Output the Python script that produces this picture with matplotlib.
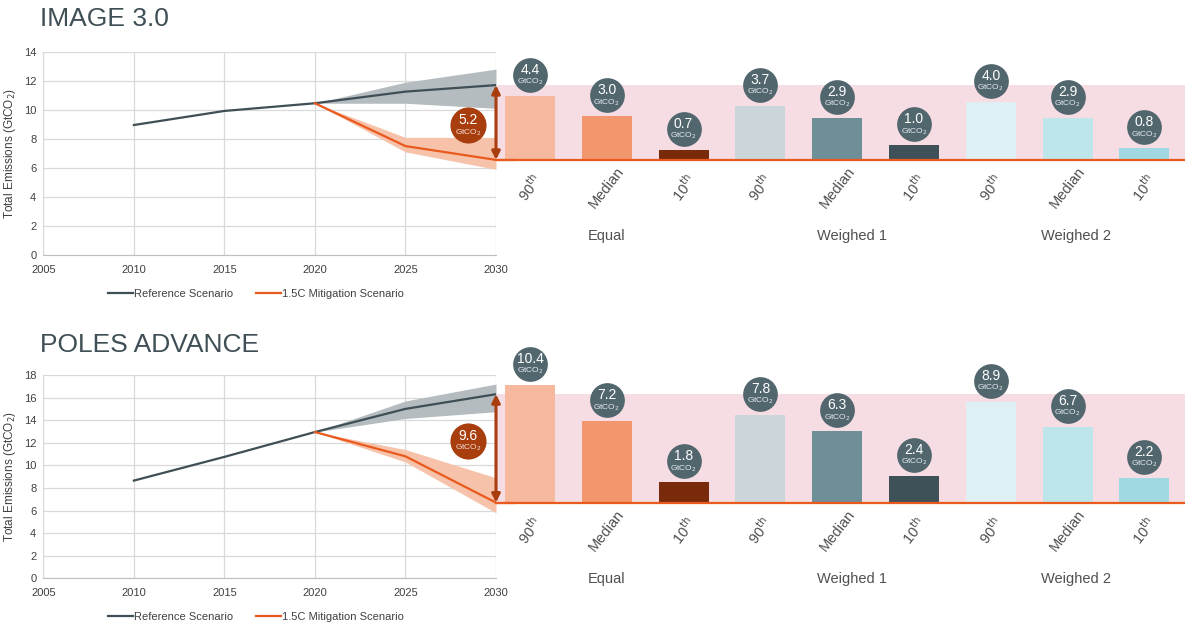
import matplotlib
matplotlib.use("Agg")
import matplotlib.pyplot as plt
import matplotlib.transforms as mtransforms

plt.rcParams['font.family'] = ['Liberation Sans', 'DejaVu Sans']

# ---------------- data ----------------
years = [2010, 2015, 2020, 2025, 2030]
band_years = [2020, 2025, 2030]

titles = ["IMAGE 3.0", "POLES ADVANCE"]
y_max = [14, 18]

ref_values = [[8.95, 9.92, 10.45, 11.25, 11.7],
              [8.65, 10.75, 12.95, 15.0, 16.3]]
ref_low = [[10.45, 10.45, 10.1],
           [12.95, 14.15, 14.75]]
ref_high = [[10.45, 11.9, 12.8],
            [12.95, 15.7, 17.2]]

mit_values = [[10.45, 7.5, 6.55],
              [12.95, 10.8, 6.7]]
mit_low = [[10.45, 7.1, 5.9],
           [12.95, 10.3, 5.8]]
mit_high = [[10.45, 8.1, 8.1],
            [12.95, 11.4, 8.9]]

gap_values = [5.2, 9.6]

groups = ["Equal", "Weighed 1", "Weighed 2"]
bar_labels = ["90$^{\\mathrm{th}}$", "Median", "10$^{\\mathrm{th}}$"] * 3
bar_values = [[4.4, 3.0, 0.7, 3.7, 2.9, 1.0, 4.0, 2.9, 0.8],
              [10.4, 7.2, 1.8, 7.8, 6.3, 2.4, 8.9, 6.7, 2.2]]

# ---------------- styles ----------------
bar_colors = ["#f6b99d", "#f1966d", "#782a0b",
              "#cbd6db", "#6e8f97", "#3f5158",
              "#def0f4", "#bee5ea", "#a0d9e2"]
ref_color = "#3f4f55"
ref_band = "#b4bcbf"
mit_color = "#ea5a1e"
mit_band = "#f6c2aa"
pink = "#f6dde3"
arrow_color = "#a83d0e"
bubble_color = "#52666e"
text_color = "#404040"
grid_color = "#d9d9d9"

W, H = 1185, 624
fig = plt.figure(figsize=(W / 100, H / 100), dpi=100)

panels = [dict(top=51.7, bottom=255.0, title_y=19),
          dict(top=375.0, bottom=578.3, title_y=345)]

left_px, mid_px = 43.3, 496.0
pitch = 76.8
first_center = 530.0
xmin = -(first_center - mid_px) / pitch
xmax = xmin + (W - mid_px) / pitch
group_pos = [1.0, 4.19, 7.11]
gap_frac = [0.46, 0.57]

for p, pan in enumerate(panels):
    b = 1 - pan['bottom'] / H
    h = (pan['bottom'] - pan['top']) / H
    ax = fig.add_axes([left_px / W, b, (mid_px - left_px) / W, h])
    axr = fig.add_axes([mid_px / W, b, (W - mid_px) / W, h])
    axr.set_zorder(ax.get_zorder() - 1)

    fig.text(40 / W, 1 - pan['title_y'] / H, titles[p], fontsize=19,
             color=ref_color, ha='left', va='center')

    # ---- line chart ----
    ax.fill_between(band_years, ref_low[p], ref_high[p], color=ref_band,
                    lw=0, zorder=2)
    ax.fill_between(band_years, mit_low[p], mit_high[p], color=mit_band,
                    lw=0, zorder=2)
    ax.plot(years, ref_values[p], color=ref_color, lw=1.6, zorder=3,
            label="Reference Scenario")
    ax.plot(band_years, mit_values[p], color=mit_color, lw=1.6, zorder=3,
            label="1.5C Mitigation Scenario")
    ax.set_xlim(2005, 2030)
    ax.set_ylim(0, y_max[p])
    ax.set_xticks(range(2005, 2031, 5))
    ax.set_yticks(range(0, y_max[p] + 1, 2))
    ax.grid(True, color=grid_color, lw=0.9, zorder=0)
    ax.set_axisbelow(True)
    for s in ax.spines.values():
        s.set_visible(False)
    ax.spines['bottom'].set_visible(True)
    ax.spines['bottom'].set_color("#bfbfbf")
    ax.spines['left'].set_visible(True)
    ax.spines['left'].set_color("#d9d9d9")
    ax.tick_params(axis='y', length=0, labelsize=8, colors=text_color, pad=5)
    ax.tick_params(axis='x', length=0, labelsize=8, colors=text_color, pad=7)
    ax.set_ylabel("Total Emissions (GtCO$_2$)", fontsize=8.5, color=text_color,
                  labelpad=4)
    ax.patch.set_alpha(0)
    leg = ax.legend(loc='center', bbox_to_anchor=(0.47, -0.19), ncol=2,
                    frameon=False, fontsize=8, handlelength=2.3,
                    handletextpad=0.1, columnspacing=2.0)
    for t in leg.get_texts():
        t.set_color(text_color)

    ref_end = ref_values[p][-1]
    mit_end = mit_values[p][-1]

    # double arrow
    ax.annotate("", xy=(2030, ref_end), xytext=(2030, mit_end),
                arrowprops=dict(arrowstyle='<|-|>', color=arrow_color, lw=2.2,
                                mutation_scale=12, shrinkA=0, shrinkB=0),
                annotation_clip=False, zorder=6)
    gy = mit_end + gap_frac[p] * (ref_end - mit_end)
    tr = mtransforms.offset_copy(ax.transData, fig=fig, x=-28, y=0, units='dots')
    ax.plot([2030], [gy], 'o', ms=26, color=arrow_color, transform=tr,
            clip_on=False, zorder=7, mec='none')
    tr1 = mtransforms.offset_copy(ax.transData, fig=fig, x=-28, y=5, units='dots')
    tr2 = mtransforms.offset_copy(ax.transData, fig=fig, x=-28, y=-7, units='dots')
    ax.text(2030, gy, f"{gap_values[p]:.1f}", transform=tr1, color='white',
            fontsize=10, ha='center', va='center', zorder=8)
    ax.text(2030, gy, "GtCO$_2$", transform=tr2, color='#f3e0d8',
            fontsize=6, ha='center', va='center', zorder=8)

    # ---- bar chart ----
    axr.set_xlim(xmin, xmax)
    axr.set_ylim(0, y_max[p])
    axr.axis('off')
    axr.axhspan(mit_end, ref_end, color=pink, lw=0, zorder=0)
    xs = list(range(len(bar_values[p])))
    axr.bar(xs, bar_values[p], bottom=mit_end, width=0.65, color=bar_colors,
            zorder=2)
    axr.axhline(mit_end, color=mit_color, lw=1.6, zorder=3)
    ax.plot([2030, 2031], [mit_end, mit_end], color=mit_color, lw=1.6,
            zorder=3, clip_on=False)
    for i, v in enumerate(bar_values[p]):
        top = mit_end + v
        t0 = mtransforms.offset_copy(axr.transData, fig=fig, x=0, y=21, units='dots')
        t1 = mtransforms.offset_copy(axr.transData, fig=fig, x=0, y=26, units='dots')
        t2 = mtransforms.offset_copy(axr.transData, fig=fig, x=0, y=14, units='dots')
        axr.plot([i], [top], 'o', ms=25, color=bubble_color, transform=t0,
                 clip_on=False, zorder=5, mec='none')
        axr.text(i, top, f"{v:.1f}", transform=t1, color='white', fontsize=10,
                 ha='center', va='center', zorder=6)
        axr.text(i, top, "GtCO$_2$", transform=t2, color='#e6ecee',
                 fontsize=6, ha='center', va='center', zorder=6)
        tl = mtransforms.offset_copy(axr.transData, fig=fig, x=0, y=-28, units='dots')
        axr.text(i, mit_end, bar_labels[i], transform=tl, rotation=52,
                 fontsize=10.5, color="#505050", ha='center', va='center')
    for g, gname in enumerate(groups):
        tg = mtransforms.offset_copy(axr.transData, fig=fig, x=0, y=-76, units='dots')
        axr.text(group_pos[g], mit_end, gname, transform=tg, fontsize=10.5,
                 color="#505050", ha='center', va='center')

fig.savefig("out.png", dpi=100)
